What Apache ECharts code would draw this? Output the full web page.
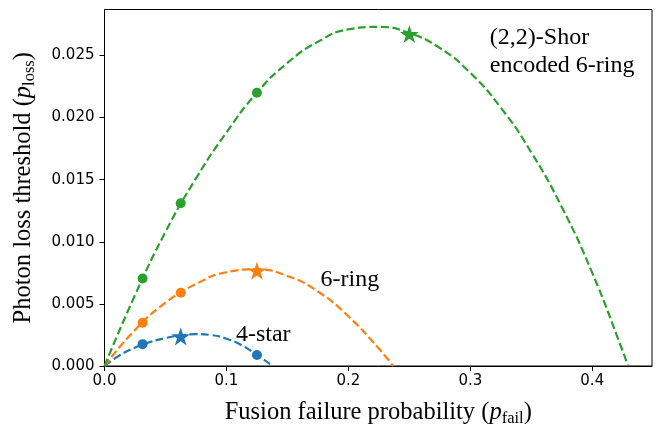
<!DOCTYPE html>
<html>
<head>
<meta charset="utf-8">
<script src="https://cdn.jsdelivr.net/npm/echarts@6/dist/echarts.min.js"></script>
<style>
html,body{margin:0;padding:0;background:#fff;}
#chart{width:657px;height:424px;}
</style>
</head>
<body>
<div id="chart"></div>
<script>
// ---- Data ----
const xTicks = [0, 0.1, 0.2, 0.3, 0.4];
const yTicks = [0, 0.005, 0.010, 0.015, 0.020, 0.025];

// dashed fitted curves, read at regular steps of p_fail: [pfail, ploss]
const fourStarCurve = [[0,0],[0.0125,0.00086],[0.025,0.00148],[0.0375,0.00193],[0.05,0.00225],[0.0625,0.00246],[0.075,0.00256],[0.0875,0.00249],[0.1,0.0022],[0.1125,0.00167],[0.125,0.00089],[0.1357,0.00015]];
const sixRingCurve = [[0,0],[0.025,0.0029],[0.05,0.0051],[0.075,0.0066],[0.1,0.00755],[0.125,0.00778],[0.15,0.00725],[0.175,0.006],[0.2,0.0040],[0.225,0.0014],[0.2367,0]];
const shorCurve = [[0,0],[0.025,0.0057],[0.05,0.0108],[0.075,0.0151],[0.1,0.0188],[0.125,0.0220],[0.15,0.0244],[0.175,0.0261],[0.2,0.0271],[0.225,0.0273],[0.25,0.0268],[0.275,0.0256],[0.3,0.0236],[0.325,0.0208],[0.35,0.0172],[0.375,0.0128],[0.4,0.0075],[0.425,0.0012],[0.4293,0]];

// simulated points (circles) and optimum (stars)
const fourStarDots = [[0.03125,0.00176],[0.125,0.00088]];
const fourStarOpt  = [[0.0625,0.00245]];
const sixRingDots  = [[0.03125,0.00348],[0.0625,0.0059]];
const sixRingOpt   = [[0.125,0.00775]];
const shorDots     = [[0.03125,0.00705],[0.0625,0.0131],[0.125,0.0220]];
const shorOpt      = [[0.25,0.0268]];

// annotations
const annoCentered = [{name:'4-star', value:[0.1302,0.00252]}, {name:'6-ring', value:[0.2012,0.00695]}];
const annoLeft = [{name:'(2,2)-Shor\nencoded 6-ring', value:[0.316,0.02534]}];

// ---- Styles ----
const C_BLUE = '#1f77b4', C_ORANGE = '#ff7f0e', C_GREEN = '#2ca02c';
const SERIF = '"Liberation Serif", "Times New Roman", serif';
const STAR = 'path://M100,0 L122.45,69.1 L195.1,69.1 L136.33,111.8 L158.8,180.9 L100,138.2 L41.2,180.9 L63.67,111.8 L4.9,69.1 L77.55,69.1 Z';

function curve(data, color) {
  return {type:'line', data:data, symbol:'none', showSymbol:false, smooth:0.5,
    lineStyle:{color:color, width:2.2, type:[8,3.5]}, z:2, silent:true};
}
function dots(data, color) {
  return {type:'scatter', data:data, symbol:'circle', symbolSize:10, itemStyle:{color:color, opacity:1}, z:4, silent:true};
}
function stars(data, color) {
  return {type:'scatter', data:data, symbol:STAR, symbolSize:[19,18], symbolOffset:[0,0.9], itemStyle:{color:color, opacity:1}, z:5, silent:true};
}

const rich = {
  p:{fontFamily:SERIF, fontSize:24.5, fontStyle:'italic', color:'#000'},
  s:{fontFamily:SERIF, fontSize:16.5, color:'#000', padding:[12,0,0,0]}
};
const annoLabel = {fontFamily:SERIF, fontSize:24, color:'#000', opacity:1, textBorderWidth:0, textBorderColor:'transparent', textShadowBlur:0};

const chart = echarts.init(document.getElementById('chart'), null, {renderer:'canvas'});
chart.setOption({
  animation:false,
  backgroundColor:'#fff',
  grid:{left:104.5, right:5, top:9.5, bottom:58, show:true, borderColor:'#000', borderWidth:1, backgroundColor:'transparent', outerBoundsMode:'none', containLabel:false},
  xAxis:{
    type:'value', min:0, max:0.449,
    name:'Fusion failure probability ({p|p}{s|fail})',
    nameLocation:'middle', nameGap:32,
    nameTextStyle:{fontFamily:SERIF, fontSize:24.5, color:'#000', rich:rich},
    axisLine:{show:true, onZero:false, lineStyle:{color:'#000', width:1}},
    axisTick:{show:true, inside:false, length:5, lineStyle:{color:'#000', width:1}, customValues:xTicks},
    axisLabel:{show:true, customValues:xTicks, formatter:function(v){return v.toFixed(1);}, fontFamily:'"DejaVu Sans"', fontSize:15, color:'#000', margin:8},
    splitLine:{show:false}
  },
  yAxis:{
    type:'value', min:0, max:0.0287,
    name:'Photon loss threshold ({p|p}{s|loss})',
    nameLocation:'middle', nameGap:66, nameRotate:90,
    nameTextStyle:{fontFamily:SERIF, fontSize:24.5, color:'#000', rich:rich},
    axisLine:{show:true, onZero:false, lineStyle:{color:'#000', width:1}},
    axisTick:{show:true, inside:false, length:5, lineStyle:{color:'#000', width:1}, customValues:yTicks},
    axisLabel:{show:true, customValues:yTicks, formatter:function(v){return v.toFixed(3);}, fontFamily:'"DejaVu Sans"', fontSize:15, color:'#000', margin:10},
    splitLine:{show:false}
  },
  series:[
    curve(fourStarCurve, C_BLUE),
    curve(sixRingCurve, C_ORANGE),
    curve(shorCurve, C_GREEN),
    dots(fourStarDots, C_BLUE), stars(fourStarOpt, C_BLUE),
    dots(sixRingDots, C_ORANGE), stars(sixRingOpt, C_ORANGE),
    dots(shorDots, C_GREEN), stars(shorOpt, C_GREEN),
    {type:'scatter', data:annoCentered, symbolSize:0, z:6, silent:true, itemStyle:{opacity:1},
      label:Object.assign({show:true, position:'inside', formatter:'{b}'}, annoLabel)},
    {type:'scatter', data:annoLeft, symbolSize:0, z:6, silent:true, itemStyle:{opacity:1},
      label:Object.assign({show:true, position:'right', distance:0, align:'left', formatter:'{b}', lineHeight:28}, annoLabel)}
  ]
});
</script>
</body>
</html>
